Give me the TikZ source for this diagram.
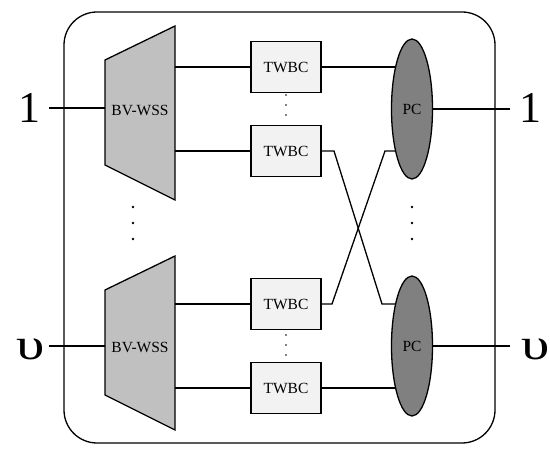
\documentclass[tikz,border=0pt]{standalone}
\usepackage{fontspec}
\setmainfont{Liberation Serif}
\usetikzlibrary{shapes.geometric,backgrounds}
\definecolor{wssfill}{HTML}{C0C0C0}
\definecolor{twbcfill}{HTML}{F2F2F2}
\definecolor{pcfill}{HTML}{808080}
\begin{document}
\begin{tikzpicture}[x=1pt,y=-1pt,line width=1.3pt,
  every path/.style={line width=1.3pt},
  lbl/.style={font=\fontsize{15.5}{18}\selectfont, inner sep=0pt},
  big/.style={font=\fontsize{44}{50}\selectfont, inner sep=0pt},
  twbc/.style={draw, fill=twbcfill, minimum width=70pt, minimum height=51pt, inner sep=0pt, font=\fontsize{15.5}{18}\selectfont},
  pcnode/.style={ellipse, draw, fill=pcfill, minimum width=41pt, minimum height=140pt, inner sep=0pt, font=\fontsize{15.5}{18}\selectfont},
  wss/.style={draw, fill=wssfill, line join=miter},
  bigdot/.style={circle, fill, inner sep=0pt, minimum size=2.6pt},
  smalldot/.style={circle, fill, inner sep=0pt, minimum size=1.8pt}]
\useasboundingbox (0,0) rectangle (550,454);
% outer frame
\draw[rounded corners=33pt] (64,12) rectangle (495,443);
% BV-WSS trapezoids
\draw[wss] (105,60) -- (175,26) -- (175,200) -- (105,165) -- cycle;
\draw[wss] (105,290) -- (175,256) -- (175,430) -- (105,395) -- cycle;
\node[lbl] (wss1) at (140,110) {BV-WSS};
\node[lbl] (wss2) at (140,347) {BV-WSS};
\coordinate (wss1in) at (105,108);
\coordinate (wss2in) at (105,346);
\coordinate (wss1a) at (175,67);
\coordinate (wss1b) at (175,151);
\coordinate (wss2a) at (175,304);
\coordinate (wss2b) at (175,388);
% TWBC boxes
\node[twbc] (tw1) at (286,67) {TWBC};
\node[twbc] (tw2) at (286,151) {TWBC};
\node[twbc] (tw3) at (286,304) {TWBC};
\node[twbc] (tw4) at (286,388) {TWBC};
% PC ellipses
\node[pcnode] (pc1) at (412,109) {PC};
\node[pcnode] (pc2) at (412,346) {PC};
% port labels
\node[big] (in1) at (30,108) {1};
\node[big] (in2) at (31,349) {\scalebox{1.3}[1]{υ}};
\node[big] (out1) at (530,108) {1};
\node[big] (out2) at (536,349) {\scalebox{1.3}[1]{υ}};
\coordinate (in1e) at (49,108);
\coordinate (in2e) at (49,346);
\coordinate (out1e) at (510,109);
\coordinate (out2e) at (510,346);
% connectors
\draw (in1e) -- (wss1in);
\draw (in2e) -- (wss2in);
\draw (wss1a) -- (tw1.west);
\draw (wss1b) -- (tw2.west);
\draw (wss2a) -- (tw3.west);
\draw (wss2b) -- (tw4.west);
\draw (pc1.east) -- (out1e);
\draw (pc2.east) -- (out2e);
\coordinate (c1) at (334,151);
\coordinate (c2) at (382,304);
\coordinate (c3) at (332,304);
\coordinate (c4) at (385,151);
\begin{scope}[on background layer]
\draw[line width=1.3pt] (tw1.east) -- (tw1.east -| pc1.center);
\draw[line width=1.3pt] (tw4.east) -- (tw4.east -| pc2.center);
\draw[line width=1.3pt] (tw2.east) -- (c1) -- (c2) -- (c2 -| pc2.center);
\draw[line width=1.3pt] (tw3.east) -- (c3) -- (c4) -- (c4 -| pc1.center);
\end{scope}
% dots
\foreach \y [count=\i] in {207,223,239} {
  \node[bigdot] (dw\i) at (133,\y) {};
  \node[bigdot] (dp\i) at (412,\y) {};
}
\foreach \y [count=\i] in {95,105,115} {
  \node[smalldot] (dt\i) at (286,\y) {};
}
\foreach \y [count=\i] in {335,345,355} {
  \node[smalldot] (db\i) at (286,\y) {};
}
\end{tikzpicture}
\end{document}
